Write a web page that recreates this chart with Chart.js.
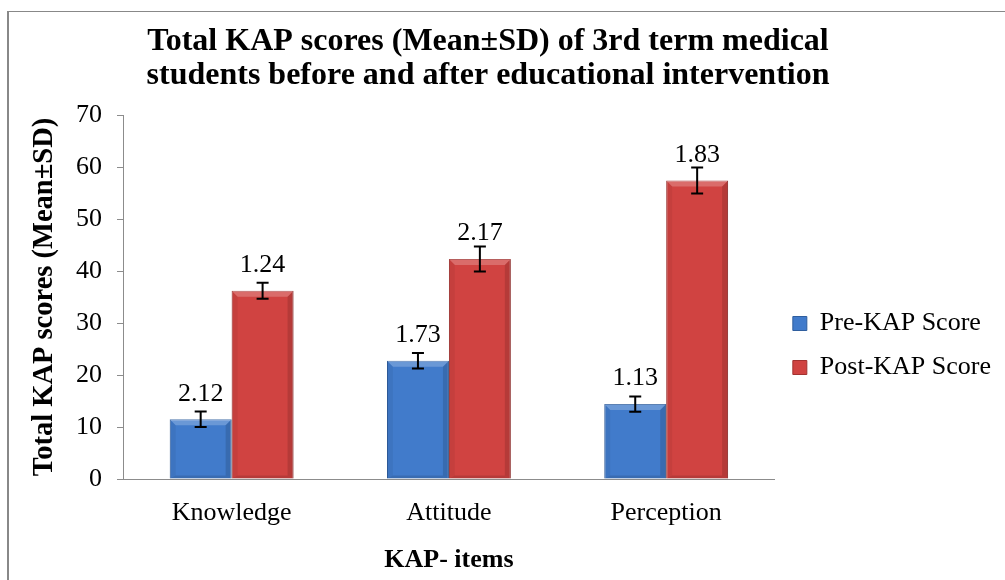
<!DOCTYPE html>
<html>
<head>
<meta charset="utf-8">
<script src="https://cdn.jsdelivr.net/npm/chart.js@4.4.1/dist/chart.umd.min.js"></script>
<style>
  html, body { margin: 0; padding: 0; background: #ffffff; }
  #wrap { position: relative; width: 1005px; height: 580px; overflow: hidden; }
  #frame { position: absolute; left: 7px; top: 11px; width: 1200px; height: 800px;
           border-left: 2px solid #888888; border-top: 1px solid #888888; }
  #c { position: absolute; left: 0; top: 0; }
</style>
</head>
<body>
<div id="wrap">
  <div id="frame"></div>
  <canvas id="c" width="1005" height="580"></canvas>
</div>
<script>
// ---- data ----
const categories = ["Knowledge", "Attitude", "Perception"];
const seriesNames = ["Pre-KAP Score", "Post-KAP Score"];
const preMeans = [11.5, 22.75, 14.4];
const postMeans = [36.2, 42.3, 57.4];
const preErr = [1.5, 1.5, 1.45];
const postErr = [1.55, 2.4, 2.5];
const preLabels = ["2.12", "1.73", "1.13"];
const postLabels = ["1.24", "2.17", "1.83"];
const titleLines = ["Total KAP scores (Mean\u00B1SD) of 3rd term medical",
                    "students before and after educational intervention"];
const yTitle = "Total KAP scores (Mean\u00B1SD)";
const xTitle = "KAP- items";
const yMin = 0, yMax = 70, yStep = 10;

const FONT = "'Liberation Serif', 'Times New Roman', serif";

const errors = [preErr, postErr];
const labelsText = [preLabels, postLabels];

const titlePlugin = {
  id: 'customTitle',
  afterDraw(chart) {
    const ctx = chart.ctx;
    ctx.save();
    ctx.fillStyle = '#000';
    ctx.font = "bold 32px " + FONT;
    ctx.textAlign = 'center';
    ctx.textBaseline = 'middle';
    titleLines.forEach((t, i) => ctx.fillText(t, 488, 42 + i * 34));
    ctx.restore();
  }
};

const bevelPlugin = {
  id: 'bevel',
  afterDatasetsDraw(chart) {
    const ctx = chart.ctx;
    ctx.save();
    chart.data.datasets.forEach((ds, di) => {
      const meta = chart.getDatasetMeta(di);
      meta.data.forEach(el => {
        const {x, y, base, width} = el.getProps(['x', 'y', 'base', 'width'], true);
        const l = x - width / 2, r = x + width / 2, b = 6;
        const poly = (pts, fill) => {
          ctx.beginPath();
          ctx.moveTo(pts[0][0], pts[0][1]);
          for (let k = 1; k < pts.length; k++) ctx.lineTo(pts[k][0], pts[k][1]);
          ctx.closePath();
          ctx.fillStyle = fill;
          ctx.fill();
        };
        poly([[l, y], [r, y], [r - b, y + b], [l + b, y + b]], 'rgba(255,255,255,0.22)');
        poly([[l, y], [l + b, y + b], [l + b, base - 3], [l, base]], 'rgba(0,0,0,0.05)');
        poly([[r, y], [r - b, y + b], [r - b, base - 3], [r, base]], 'rgba(0,0,0,0.13)');
        poly([[l, base], [l + b, base - 3], [r - b, base - 3], [r, base]], 'rgba(0,0,0,0.12)');
      });
    });
    ctx.restore();
  }
};

const errorPlugin = {
  id: 'errorBars',
  afterDatasetsDraw(chart) {
    const ctx = chart.ctx;
    const yScale = chart.scales.y;
    ctx.save();
    chart.data.datasets.forEach((ds, di) => {
      const meta = chart.getDatasetMeta(di);
      meta.data.forEach((el, i) => {
        const v = ds.data[i];
        const e = errors[di][i];
        const x = el.x;
        const yt = yScale.getPixelForValue(v + e);
        const yb = yScale.getPixelForValue(v - e);
        ctx.strokeStyle = '#000';
        ctx.lineWidth = 2;
        ctx.beginPath();
        ctx.moveTo(x, yt); ctx.lineTo(x, yb);
        ctx.moveTo(x - 6, yt); ctx.lineTo(x + 6, yt);
        ctx.moveTo(x - 6, yb); ctx.lineTo(x + 6, yb);
        ctx.stroke();
        // data label
        ctx.fillStyle = '#000';
        ctx.font = "26px " + FONT;
        ctx.textAlign = 'center';
        ctx.textBaseline = 'middle';
        ctx.fillText(labelsText[di][i], x, yScale.getPixelForValue(v) - 25.5);
      });
    });
    ctx.restore();
  }
};

new Chart(document.getElementById('c'), {
  type: 'bar',
  data: {
    labels: categories,
    datasets: [
      { label: seriesNames[0], data: preMeans, backgroundColor: '#417bcb',
        borderColor: '#2f5e9e', borderWidth: 1, categoryPercentage: 0.57, barPercentage: 1.0 },
      { label: seriesNames[1], data: postMeans, backgroundColor: '#d04341',
        borderColor: '#a23230', borderWidth: 1, categoryPercentage: 0.57, barPercentage: 1.0 }
    ]
  },
  options: {
    responsive: false,
    animation: false,
    devicePixelRatio: 1,
    layout: { padding: { top: 115, left: 10, right: 4, bottom: 4 } },
    plugins: {
      title: { display: false },
      tooltip: { enabled: false },
      legend: {
        position: 'right',
        align: 'center',
        labels: {
          boxWidth: 14, boxHeight: 14, padding: 18, color: '#000',
          font: { family: FONT, size: 26 }
        }
      }
    },
    scales: {
      x: {
        grid: { display: false, drawTicks: false },
        border: { display: true, color: '#8c8c8c', width: 1 },
        ticks: { color: '#000', font: { family: FONT, size: 26 }, padding: 19 },
        title: { display: true, text: xTitle, color: '#000', padding: 0,
                 font: { family: FONT, size: 26, weight: 'bold' } },
        afterFit(scale) { scale.height = 97; }
      },
      y: {
        min: yMin, max: yMax,
        grid: { drawOnChartArea: false, drawTicks: true, tickLength: 6, tickColor: '#8c8c8c' },
        border: { display: true, color: '#8c8c8c', width: 1 },
        ticks: { stepSize: yStep, color: '#000', font: { family: FONT, size: 26 }, padding: 15 },
        title: { display: true, text: yTitle, color: '#000', padding: { top: 18, bottom: 0 },
                 font: { family: FONT, size: 28.5, weight: 'bold' } },
        afterFit(scale) { scale.width = 113; }
      }
    }
  },
  plugins: [bevelPlugin, errorPlugin, titlePlugin]
});
</script>
</body>
</html>
